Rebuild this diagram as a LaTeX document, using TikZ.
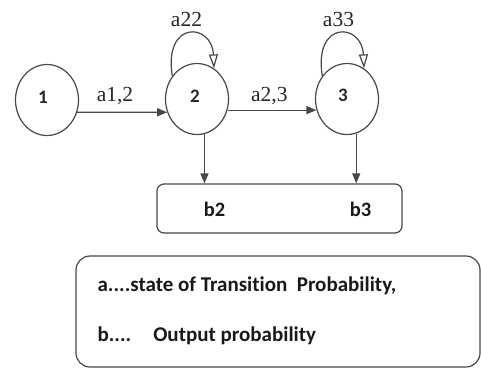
\documentclass[tikz,border=0pt]{standalone}
\usepackage{fontspec}
\setmainfont{Liberation Serif}
\newfontfamily\carlitofont[Ligatures=NoCommon]{Carlito}
\usetikzlibrary{shapes.geometric,arrows.meta}
\begin{document}
\begin{tikzpicture}[x=1pt,y=-1pt,
  line width=1.2pt,
  ln/.style={draw=black!72},
  st/.style={ellipse,ln,minimum width=63pt,minimum height=71pt,inner sep=0pt},
  arr/.style={ln,-{Triangle[length=10pt,width=8pt]}},
  looparr/.style={ln,-{Triangle[open,length=14pt,width=9pt]}},
  serlab/.style={font=\fontsize{21.5}{21.5}\selectfont,text=black!85,inner sep=0pt,anchor=base},
  numlab/.style={font=\carlitofont\bfseries\fontsize{19}{19}\selectfont,text=black!85},
  blab/.style={font=\carlitofont\bfseries\fontsize{20.5}{20.5}\selectfont,text=black!90,inner sep=0pt,anchor=base},
  leg/.style={font=\carlitofont\bfseries\fontsize{21}{21}\selectfont,text=black!90,inner sep=0pt,anchor=base west}]
\useasboundingbox (0,0) rectangle (481,370);
% states
\node[st,label={[numlab,xshift=-4pt,yshift=3pt]center:1}] (n1) at (47,100) {};
\node[st,label={[numlab,xshift=-2pt,yshift=3pt]center:2}] (n2) at (197,99) {};
\node[st,label={[numlab,xshift=-4pt,yshift=4pt]center:3}] (n3) at (347,99) {};
% output box
\node[ln,rounded corners=7pt,minimum width=245pt,minimum height=49pt,inner sep=0pt] (bb) at (279.5,208.5) {};
\node[blab] (b2) at (214.5,216) {b2};
\node[blab] (b3) at (360.5,216) {b3};
% transitions
\draw[arr] (n1.-22) -- (n2.-156) node[serlab,pos=0.42,above=7pt] (l12) {a1,2};
\draw[arr] (n2.-20) -- (n3.-160) node[serlab,pos=0.47,above=5pt] (l23) {a2,3};
% self loops
\draw[looparr] (n2.137) .. controls +(-9,-56) and +(-2,-46) .. (n2.61);
\draw[looparr] (n3.137) .. controls +(-9,-56) and +(-2,-46) .. (n3.61);
\node[serlab] (l22) at (186.5,26) {a22};
\node[serlab] (l33) at (338.5,26) {a33};
% emissions
\draw[arr] (n2.-78) -- (n2.-78 |- bb.north);
\draw[arr] (n3.-75) -- (n3.-75 |- bb.north);
% legend
\node[ln,rounded corners=14pt,minimum width=404pt,minimum height=111pt,inner sep=0pt] (lg) at (278,311.5) {};
\node[leg] (la) at (97,291) {a....state of Transition\ \ Probability,};
\node[leg] (lb) at (97,341) {b....\hspace{22pt}Output probability};
\end{tikzpicture}
\end{document}
